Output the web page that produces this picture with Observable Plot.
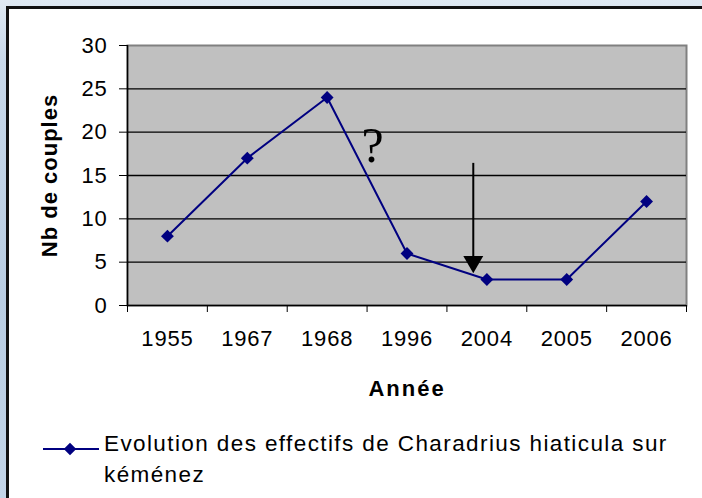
<!DOCTYPE html>
<html><head><meta charset="utf-8">
<script src="https://cdn.jsdelivr.net/npm/d3@7"></script>
<script src="https://cdn.jsdelivr.net/npm/@observablehq/plot@0.6"></script>
<style>
html,body{margin:0;padding:0;width:702px;height:498px;overflow:hidden;}
body{position:relative;background:linear-gradient(180deg,#dfe9f3 0px,#c9d9ea 60px,#b9cde2 300px,#c3d5e8 498px);font-family:"Liberation Sans",Arial,sans-serif;}
#frame{position:absolute;left:6px;top:6px;width:760px;height:560px;border:3px solid #111;background:#fff;}
#chart{position:absolute;left:0;top:0;}
#legend{position:absolute;left:43px;top:428px;display:flex;align-items:flex-start;font-size:22.5px;line-height:31px;letter-spacing:1.4px;color:#000;}
#legend svg{margin-top:13.5px;flex:none;}
#legend span{display:block;width:585px;margin-left:5px;}
g[aria-label="y-axis tick label"] text, g[aria-label="x-axis tick label"] text{letter-spacing:0.8px;}
g[aria-label="x-axis label"] text{font-weight:bold;letter-spacing:2px;}
g[aria-label="y-axis label"] text{font-weight:bold;letter-spacing:1px;}
</style>
</head><body>
<div id="frame"></div>
<div id="chart"></div>
<div id="legend"></div>
<script>
const years = ["1955","1967","1968","1996","2004","2005","2006"];
const couples = [8, 17, 24, 6, 3, 3, 12];
const yTicks = [0, 5, 10, 15, 20, 25, 30];
const seriesName = "Evolution des effectifs de Charadrius hiaticula sur kéménez";
const xTitle = "Année";
const yTitle = "Nb de couples";
// annotations (in data units: x = category position, y = couples)
const questionMark = [{x: 3.07, y: 18.4, text: "?"}];
const arrowLine = [{x: 4.33, y1: 16.4, y2: 5.5}];
const arrowHead = [{x: 4.33, y: 5.05}];

const navy = "#000080";
const data = years.map((year, i) => ({year, pos: i + 0.5, couples: couples[i]}));
const labelAt = new Map(data.map(d => [d.pos, d.year]));

const chart = Plot.plot({
  width: 702, height: 410,
  marginLeft: 127, marginRight: 16, marginTop: 45, marginBottom: 105,
  style: {fontFamily: '"Liberation Sans", Arial, sans-serif', fontSize: "22px", color: "#000", background: "transparent", overflow: "visible"},
  x: {domain: [0, years.length]},
  y: {domain: [0, 30]},
  marks: [
    Plot.frame({fill: "#c0c0c0", stroke: "#808080", strokeWidth: 2}),
    Plot.gridY({ticks: yTicks.slice(1, -1), stroke: "#000", strokeOpacity: 1, strokeWidth: 1.3}),
    Plot.ruleX([0], {stroke: "#000", strokeWidth: 1.5}),
    Plot.ruleY([0], {stroke: "#000", strokeWidth: 1.5}),
    Plot.axisY({ticks: yTicks, anchor: "left", tickSize: 8, tickPadding: 12, stroke: "#000", strokeOpacity: 1,
      label: yTitle, labelAnchor: "center", labelArrow: "none", labelOffset: 86}),
    Plot.axisX({ticks: d3.range(years.length + 1), anchor: "bottom", tickSize: 7, stroke: "#000", strokeOpacity: 1, tickFormat: () => "", label: null}),
    Plot.axisX({ticks: data.map(d => d.pos), anchor: "bottom", tickSize: 0, tickPadding: 25, tickFormat: d => labelAt.get(d),
      label: xTitle, labelAnchor: "center", labelArrow: "none", labelOffset: 90}),
    Plot.line(data, {x: "pos", y: "couples", stroke: navy, strokeWidth: 2}),
    Plot.dot(data, {x: "pos", y: "couples", symbol: "diamond2", r: 5.8, fill: navy, stroke: "none"}),
    Plot.text(questionMark, {x: "x", y: "y", text: "text", fontFamily: '"Liberation Serif", "Times New Roman", serif', fontSize: 50, fill: "#000"}),
    Plot.ruleX(arrowLine, {x: "x", y1: "y1", y2: "y2", stroke: "#000", strokeWidth: 2}),
    Plot.dot(arrowHead, {x: "x", y: "y", symbol: "triangle", r: 7.4, rotate: 180, fill: "#000", stroke: "none"})
  ]
});
document.getElementById("chart").appendChild(chart);

// legend
const legend = d3.select("#legend");
const sw = legend.append("svg").attr("width", 56).attr("height", 14);
sw.append("line").attr("x1", 0).attr("x2", 56).attr("y1", 7).attr("y2", 7).attr("stroke", navy).attr("stroke-width", 2);
sw.append("path").attr("d", d3.symbol(d3.symbolDiamond2, 100)()).attr("transform", "translate(27,7)").attr("fill", navy);
legend.append("span").text(seriesName);
</script>
</body></html>
